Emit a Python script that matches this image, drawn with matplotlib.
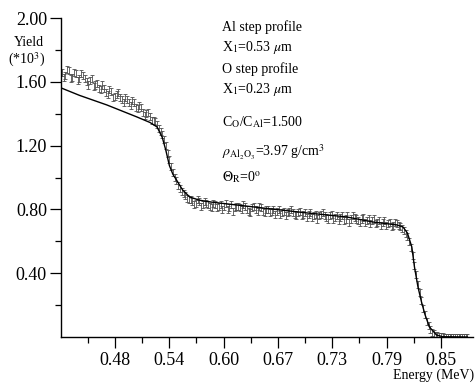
import matplotlib
matplotlib.use("Agg")
import matplotlib.pyplot as plt
from matplotlib.ticker import FixedLocator, FixedFormatter

plt.rcParams['font.family'] = ['Liberation Serif', 'DejaVu Serif']
plt.rcParams['mathtext.fontset'] = 'stix'

# measured spectrum (energy in MeV, yield in units of 10^3), even channels
energy = [0.420, 0.424, 0.428, 0.432, 0.436, 0.440, 0.444, 0.448, 0.452, 0.456,
          0.460, 0.464, 0.468, 0.472, 0.476, 0.480, 0.484, 0.488, 0.492, 0.496,
          0.500, 0.504, 0.508, 0.512, 0.516, 0.520, 0.524, 0.528, 0.532, 0.536,
          0.540, 0.544, 0.548, 0.552, 0.556, 0.560, 0.564, 0.568, 0.572, 0.576,
          0.580, 0.584, 0.588, 0.592, 0.596, 0.600, 0.604, 0.608, 0.612, 0.616,
          0.620, 0.624, 0.628, 0.632, 0.636, 0.640, 0.644, 0.648, 0.652, 0.656,
          0.660, 0.664, 0.668, 0.672, 0.676, 0.680, 0.684, 0.688, 0.692, 0.696,
          0.700, 0.704, 0.708, 0.712, 0.716, 0.720, 0.724, 0.728, 0.732, 0.736,
          0.740, 0.744, 0.748, 0.752, 0.756, 0.760, 0.764, 0.768, 0.772, 0.776,
          0.780, 0.784, 0.788, 0.792, 0.796, 0.800, 0.804, 0.808, 0.812, 0.816,
          0.820, 0.824, 0.828, 0.832, 0.836, 0.840, 0.844, 0.848, 0.852, 0.856,
          0.860, 0.864, 0.868, 0.872, 0.876, 0.880]
yield_meas = [1.66, 1.64, 1.67, 1.63, 1.65, 1.62, 1.64, 1.60, 1.61, 1.57,
              1.59, 1.55, 1.56, 1.52, 1.54, 1.51, 1.53, 1.49, 1.50, 1.47,
              1.48, 1.44, 1.45, 1.41, 1.40, 1.38, 1.36, 1.33, 1.29, 1.24,
              1.15, 1.07, 1.00, 0.95, 0.91, 0.89, 0.86, 0.85, 0.84, 0.85,
              0.83, 0.84, 0.82, 0.84, 0.81, 0.83, 0.82, 0.80, 0.83, 0.81,
              0.82, 0.80, 0.82, 0.79, 0.81, 0.80, 0.82, 0.79, 0.80, 0.78,
              0.80, 0.79, 0.77, 0.79, 0.78, 0.80, 0.77, 0.78, 0.76, 0.78,
              0.77, 0.75, 0.77, 0.76, 0.78, 0.75, 0.76, 0.74, 0.76, 0.75,
              0.73, 0.76, 0.74, 0.75, 0.73, 0.74, 0.72, 0.74, 0.73, 0.71,
              0.73, 0.72, 0.70, 0.72, 0.70, 0.71, 0.69, 0.67, 0.63, 0.56,
              0.45, 0.33, 0.23, 0.14, 0.07, 0.03, 0.012, 0.004, 0.001, 0.0,
              0.0, 0.0, 0.0, 0.0, 0.0, 0.0]

# odd channels
energy_b = [0.422, 0.426, 0.430, 0.434, 0.438, 0.442, 0.446, 0.450, 0.454, 0.458,
            0.462, 0.466, 0.470, 0.474, 0.478, 0.482, 0.486, 0.490, 0.494, 0.498,
            0.502, 0.506, 0.510, 0.514, 0.518, 0.522, 0.526, 0.530, 0.534, 0.538,
            0.542, 0.546, 0.550, 0.554, 0.558, 0.562, 0.566, 0.570, 0.574, 0.578,
            0.582, 0.586, 0.590, 0.594, 0.598, 0.602, 0.606, 0.610, 0.614, 0.618,
            0.622, 0.626, 0.630, 0.634, 0.638, 0.642, 0.646, 0.650, 0.654, 0.658,
            0.662, 0.666, 0.670, 0.674, 0.678, 0.682, 0.686, 0.690, 0.694, 0.698,
            0.702, 0.706, 0.710, 0.714, 0.718, 0.722, 0.726, 0.730, 0.734, 0.738,
            0.742, 0.746, 0.750, 0.754, 0.758, 0.762, 0.766, 0.770, 0.774, 0.778,
            0.782, 0.786, 0.790, 0.794, 0.798, 0.802, 0.806, 0.810, 0.814, 0.818,
            0.822, 0.826, 0.830, 0.834, 0.838, 0.842, 0.846, 0.850, 0.854, 0.858,
            0.862, 0.866, 0.870, 0.874, 0.878]
yield_meas_b = [1.63, 1.68, 1.62, 1.66, 1.61, 1.65, 1.62, 1.58, 1.62, 1.58,
                1.56, 1.58, 1.53, 1.55, 1.50, 1.52, 1.50, 1.47, 1.49, 1.45,
                1.47, 1.43, 1.44, 1.39, 1.41, 1.36, 1.35, 1.31, 1.27, 1.20,
                1.11, 1.03, 0.98, 0.93, 0.90, 0.87, 0.86, 0.83, 0.86, 0.82,
                0.85, 0.83, 0.81, 0.83, 0.82, 0.80, 0.84, 0.81, 0.79, 0.82,
                0.81, 0.83, 0.80, 0.78, 0.82, 0.79, 0.81, 0.78, 0.80, 0.79,
                0.77, 0.80, 0.78, 0.76, 0.79, 0.78, 0.76, 0.79, 0.77, 0.75,
                0.78, 0.76, 0.74, 0.77, 0.76, 0.74, 0.77, 0.75, 0.73, 0.76,
                0.74, 0.72, 0.76, 0.74, 0.72, 0.75, 0.73, 0.71, 0.74, 0.72,
                0.70, 0.73, 0.71, 0.69, 0.72, 0.70, 0.68, 0.65, 0.60, 0.51,
                0.39, 0.28, 0.18, 0.10, 0.05, 0.02, 0.008, 0.002, 0.0, 0.0,
                0.0, 0.0, 0.0, 0.0, 0.0]
yield_err = 0.022

# simulated step-profile fit
fit_e = [0.419, 0.440, 0.471, 0.505, 0.520, 0.528, 0.534, 0.538, 0.542, 0.546,
         0.550, 0.557, 0.565, 0.576, 0.588, 0.618, 0.648, 0.698, 0.743, 0.773,
         0.800, 0.807, 0.812, 0.817, 0.820, 0.824, 0.828, 0.832, 0.837, 0.845,
         0.852, 0.880]
fit_y = [1.562, 1.515, 1.455, 1.380, 1.345, 1.317, 1.250, 1.170, 1.075, 1.020,
         0.985, 0.922, 0.878, 0.858, 0.847, 0.828, 0.809, 0.778, 0.753, 0.721,
         0.703, 0.690, 0.652, 0.565, 0.440, 0.314, 0.220, 0.140, 0.063, 0.013,
         0.002, 0.0]

xtick_pos = [0.4800, 0.5417, 0.6034, 0.6651, 0.7268, 0.7885, 0.8502]
xtick_labels = ['0.48', '0.54', '0.60', '0.67', '0.73', '0.79', '0.85']
xminor_pos = [0.4492, 0.5108, 0.5725, 0.6342, 0.6960, 0.7576, 0.8193]
ytick_pos = [0.40, 0.80, 1.20, 1.60, 2.00]
ytick_labels = ['0.40', '0.80', '1.20', '1.60', '2.00']
yminor_pos = [0.2, 0.6, 1.0, 1.4, 1.8]

fig = plt.figure(figsize=(4.75, 3.83), dpi=100)
ax = fig.add_axes([0.128, 0.120, 0.867, 0.833])

for e, y in [(energy, yield_meas), (energy_b, yield_meas_b)]:
    ax.errorbar(e, y, yerr=yield_err, fmt='none', ecolor='0.3',
                elinewidth=0.6, capsize=1.6, capthick=0.6)
ax.plot(fit_e, fit_y, color='black', lw=1.0)

ax.set_xlim(0.4188, 0.886)
ax.set_ylim(0, 2.0)

ax.spines['top'].set_visible(False)
ax.spines['right'].set_visible(False)
ax.spines['left'].set_linewidth(1.0)
ax.spines['bottom'].set_linewidth(1.0)

ax.xaxis.set_major_locator(FixedLocator(xtick_pos))
ax.xaxis.set_major_formatter(FixedFormatter(xtick_labels))
ax.xaxis.set_minor_locator(FixedLocator(xminor_pos))
ax.yaxis.set_major_locator(FixedLocator(ytick_pos))
ax.yaxis.set_major_formatter(FixedFormatter(ytick_labels))
ax.yaxis.set_minor_locator(FixedLocator(yminor_pos))

ax.tick_params(which='major', direction='out', length=8, width=0.9, labelsize=13)
ax.tick_params(which='minor', direction='out', length=4, width=0.9)
ax.tick_params(axis='x', pad=3)
ax.tick_params(axis='y', pad=2)

# axis labels placed like the original
fig.text(14 / 475, 1 - 42 / 383, 'Yield', fontsize=10, va='center', ha='left')
fig.text(8 / 475, 1 - 60 / 383, r'(*10$^3$)', fontsize=10, va='center', ha='left')
fig.text(474 / 475, 1 - 375 / 383, 'Energy (MeV)', fontsize=10, va='center', ha='right')

tx = 222 / 475
notes = [
    (27, 'Al step profile'),
    (48, r'X$_1$=0.53 $\mu$m'),
    (69, 'O step profile'),
    (89, r'X$_1$=0.23 $\mu$m'),
    (122, r'C$_\mathrm{O}$/C$_\mathrm{Al}$=1.500'),
    (152, r'$\rho_{\mathrm{Al_2O_3}}$=3.97 g/cm$^3$'),
    (177, r'$\Theta_\mathrm{R}$=0$^\mathrm{o}$'),
]
for ypx, txt in notes:
    fig.text(tx, 1 - ypx / 383, txt, fontsize=10, va='center', ha='left')

fig.savefig('out.png', dpi=100)
